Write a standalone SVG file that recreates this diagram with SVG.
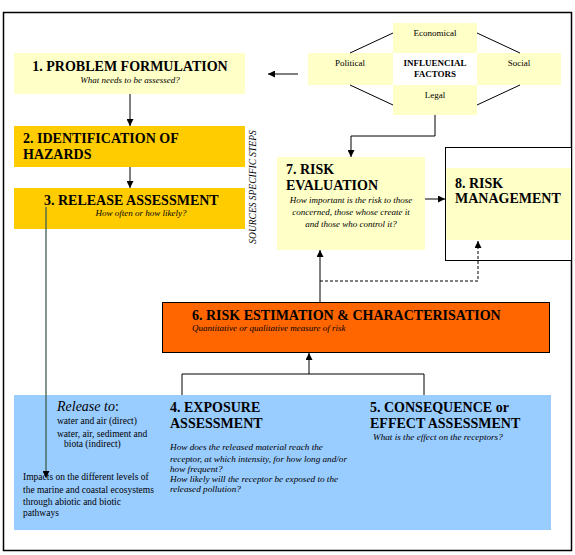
<svg xmlns="http://www.w3.org/2000/svg" width="575" height="555" viewBox="0 0 575 555" font-family="'Liberation Serif', 'DejaVu Serif', serif">
<defs>
<style>
text{fill:#000}
.b{font-weight:bold}
.i{font-style:italic}
.ly{fill:#FFFFC8}
.ln{stroke:#000;stroke-width:1;fill:none}
.c{text-anchor:middle}
</style>
<marker id="ah" viewBox="0 0 10 10" refX="10" refY="5" markerWidth="7" markerHeight="7" markerUnits="userSpaceOnUse" orient="auto"><path d="M0,0 L10,5 L0,10 Z" fill="#000"/></marker>
</defs>
<rect x="0" y="0" width="575" height="555" fill="#fff"/>
<rect x="3.5" y="12.5" width="568" height="538" fill="none" stroke="#000" stroke-width="1.5"/>

<g id="n1">
<rect class="ly" x="14" y="53" width="231" height="41"/>
<text class="b c" x="130" y="71" font-size="14">1. PROBLEM FORMULATION</text>
<text class="i c" x="130" y="82.5" font-size="9">What needs to be assessed?</text>
</g>
<g id="n2">
<rect x="14" y="126" width="231" height="41" fill="#FFCC00"/>
<text class="b" x="23" y="143" font-size="14">2. IDENTIFICATION OF</text>
<text class="b" x="23" y="159" font-size="14">HAZARDS</text>
</g>
<g id="n3">
<rect x="14" y="188" width="231" height="41" fill="#FFCC00"/>
<text class="b" x="44" y="205" font-size="14">3. RELEASE ASSESSMENT</text>
<text class="i c" x="141" y="216" font-size="9">How often or how likely?</text>
</g>
<g id="sources">
<text class="i c" transform="translate(256,187) rotate(-90)" font-size="9.5">SOURCES SPECIFIC STEPS</text>
</g>

<g id="influencial">
<rect class="ly" x="393" y="23" width="84" height="30"/>
<rect class="ly" x="308" y="53" width="85" height="32"/>
<rect class="ly" x="477" y="53" width="84" height="32"/>
<rect class="ly" x="393" y="85" width="84" height="30"/>
<text class="c" x="435" y="36" font-size="9">Economical</text>
<text class="c" x="350" y="66" font-size="9">Political</text>
<text class="b c" x="435" y="66" font-size="9">INFLUENCIAL</text>
<text class="b c" x="435" y="77" font-size="9">FACTORS</text>
<text class="c" x="519" y="66" font-size="9">Social</text>
<text class="c" x="435" y="98" font-size="9">Legal</text>
<path class="ln" d="M393,33 L350,53 M477,33 L520,53 M350,85 L393,105 M477,105 L520,85"/>
</g>

<g id="n7">
<rect class="ly" x="277" y="157" width="148" height="93"/>
<text class="b" x="286" y="174" font-size="14">7. RISK</text>
<text class="b" x="286" y="190" font-size="14">EVALUATION</text>
<text class="i c" x="351" y="203" font-size="9">How important is the risk to those</text>
<text class="i c" x="351" y="215" font-size="9">concerned, those whose create it</text>
<text class="i c" x="351" y="227" font-size="9">and  those who control it?</text>
</g>
<g id="n8">
<rect x="445.5" y="147.5" width="126" height="113" fill="#fff" stroke="#000"/>
<rect class="ly" x="446" y="168" width="125" height="72"/>
<text class="b" x="455" y="188" font-size="14">8. RISK</text>
<text class="b" x="455" y="203" font-size="14">MANAGEMENT</text>
</g>
<g id="n6">
<rect x="162.5" y="302.5" width="387" height="50" fill="#FF6600" stroke="#000"/>
<text class="b" x="192" y="320" font-size="14">6. RISK ESTIMATION &amp; CHARACTERISATION</text>
<text class="i" x="192" y="331" font-size="9">Quantitative or qualitative measure of risk</text>
</g>
<g id="n45">
<rect x="14" y="395" width="537" height="135" fill="#99CCFF"/>
<text class="i" x="57" y="411" font-size="14">Release to<tspan font-style="normal">:</tspan></text>
<text x="57" y="424" font-size="9.5">water and air (direct)</text>
<text x="57" y="437" font-size="9.5">water, air, sediment and</text>
<text x="64" y="447" font-size="9.5">biota (indirect)</text>
<text x="23" y="480" font-size="9.5">Impacts on the different levels of</text>
<text x="23" y="493" font-size="9.5">the marine and coastal ecosystems</text>
<text x="23" y="505" font-size="9.5">through abiotic and biotic</text>
<text x="23" y="516" font-size="9.5">pathways</text>
<text class="b" x="170" y="412" font-size="14">4. EXPOSURE</text>
<text class="b" x="170" y="428" font-size="14">ASSESSMENT</text>
<text class="i" x="170" y="450" font-size="9.2">How does the released material reach the</text>
<text class="i" x="170" y="462" font-size="9.2">receptor, at which intensity, for how long and/or</text>
<text class="i" x="170" y="472" font-size="9.2">how frequent?</text>
<text class="i" x="170" y="482" font-size="9.2">How likely will the receptor be exposed to the</text>
<text class="i" x="170" y="492" font-size="9.2">released pollution?</text>
<text class="b" x="370" y="412" font-size="14">5. CONSEQUENCE or</text>
<text class="b" x="370" y="428" font-size="14">EFFECT ASSESSMENT</text>
<text class="i" x="373" y="440" font-size="9.2">What is the effect on the receptors?</text>
</g>

<g id="connectors">
<path class="ln" d="M130,94 L130,126" marker-end="url(#ah)"/>
<path class="ln" d="M130,167 L130,188" marker-end="url(#ah)"/>
<path class="ln" d="M298,74 L268,74" marker-end="url(#ah)"/>
<path class="ln" d="M435,115 L435,136 L351,136 L351,157" marker-end="url(#ah)"/>
<path class="ln" d="M425,199 L445,199" marker-end="url(#ah)"/>
<path class="ln" d="M320,302 L320,250" marker-end="url(#ah)"/>
<path class="ln" d="M320,281 L478,281 L478,241" stroke-dasharray="3,2" marker-end="url(#ah)"/>
<path class="ln" d="M182,395 L182,374 L424,374 L424,395"/>
<path class="ln" d="M309,374 L309,353" marker-end="url(#ah)"/>
<path d="M46,207 L46,478" stroke="#3F5F4F" stroke-width="1.3" fill="none" marker-end="url(#ah)"/>
</g>
</svg>
